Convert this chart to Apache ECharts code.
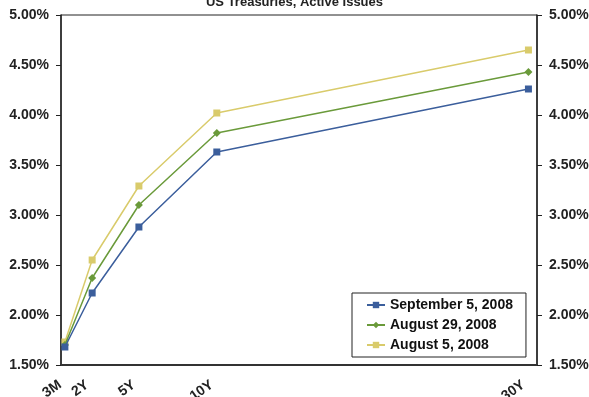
<!DOCTYPE html>
<html>
<head>
<meta charset="utf-8">
<script src="https://cdn.jsdelivr.net/npm/echarts@6/dist/echarts.min.js"></script>
<style>
  html, body { margin: 0; padding: 0; background: #fff; }
  #chart { width: 589px; height: 397px; }
</style>
</head>
<body>
<div id="chart"></div>
<script>
// Maturities in years and their tick labels
const maturities = [0.25, 2, 5, 10, 30];
const tenorLabels = ['3M', '2Y', '5Y', '10Y', '30Y'];

// Yields (%) per curve date
const sep5 = [1.68, 2.22, 2.88, 3.63, 4.26];
const aug29 = [1.70, 2.37, 3.10, 3.82, 4.43];
const aug5 = [1.73, 2.55, 3.29, 4.02, 4.65];

const seriesNames = ['September 5, 2008', 'August 29, 2008', 'August 5, 2008'];
const colors = ['#3b5e9c', '#6a9a3a', '#d9cb6b'];
const symbols = ['rect', 'diamond', 'rect'];

const FONT = '"Liberation Sans", Arial, sans-serif';

function pairs(vals) {
  return maturities.map((m, i) => [m, vals[i]]);
}

const chart = echarts.init(document.getElementById('chart'));

const yAxisCommon = {
  type: 'value',
  min: 1.5,
  max: 5,
  interval: 0.5,
  axisLine: { show: true, lineStyle: { color: '#222', width: 1.5 } },
  axisTick: { show: true, length: 5, lineStyle: { color: '#222' } },
  splitLine: { show: false },
  axisLabel: {
    color: '#222',
    fontFamily: FONT,
    fontWeight: 'bold',
    fontSize: 14,
    margin: 12,
    formatter: v => v.toFixed(2) + '%'
  }
};

chart.setOption({
  animation: false,
  backgroundColor: '#fff',
  title: {
    text: 'US Treasuries, Active Issues',
    left: 'center',
    top: -9,
    textStyle: { fontFamily: FONT, fontWeight: 'bold', fontSize: 13, color: '#222' }
  },
  grid: {
    left: 61, right: 52, top: 15, bottom: 32,
    outerBoundsMode: 'none',
    containLabel: false,
    show: true, borderColor: '#222', borderWidth: 1
  },
  legend: {
    left: 352,
    top: 293,
    orient: 'vertical',
    padding: [5, 13, 5, 14],
    itemGap: 6,
    itemWidth: 18,
    itemHeight: 8,
    backgroundColor: '#fff',
    borderColor: '#222',
    borderWidth: 1,
    textStyle: { fontFamily: FONT, fontWeight: 'bold', fontSize: 14, color: '#111' },
    data: seriesNames
  },
  xAxis: {
    type: 'value',
    min: 0,
    max: 30.55,
    axisLine: { show: true, lineStyle: { color: '#333', width: 2 } },
    axisTick: { show: false },
    splitLine: { show: false },
    axisLabel: {
      customValues: maturities,
      rotate: 35,
      margin: 15,
      padding: [0, 6, 0, 0],
      color: '#222',
      fontFamily: FONT,
      fontWeight: 'bold',
      fontSize: 14,
      formatter: v => {
        const i = maturities.indexOf(v);
        return i >= 0 ? tenorLabels[i] : '';
      }
    }
  },
  yAxis: [
    Object.assign({ position: 'left' }, yAxisCommon),
    Object.assign({ position: 'right' }, yAxisCommon)
  ],
  series: [sep5, aug29, aug5].map((vals, i) => ({
    name: seriesNames[i],
    type: 'line',
    data: pairs(vals),
    symbol: symbols[i],
    symbolSize: i === 1 ? 8 : 7,
    color: colors[i],
    lineStyle: { color: colors[i], width: 1.5 },
    itemStyle: { color: colors[i] },
    z: 3 - i
  }))
});
</script>
</body>
</html>
